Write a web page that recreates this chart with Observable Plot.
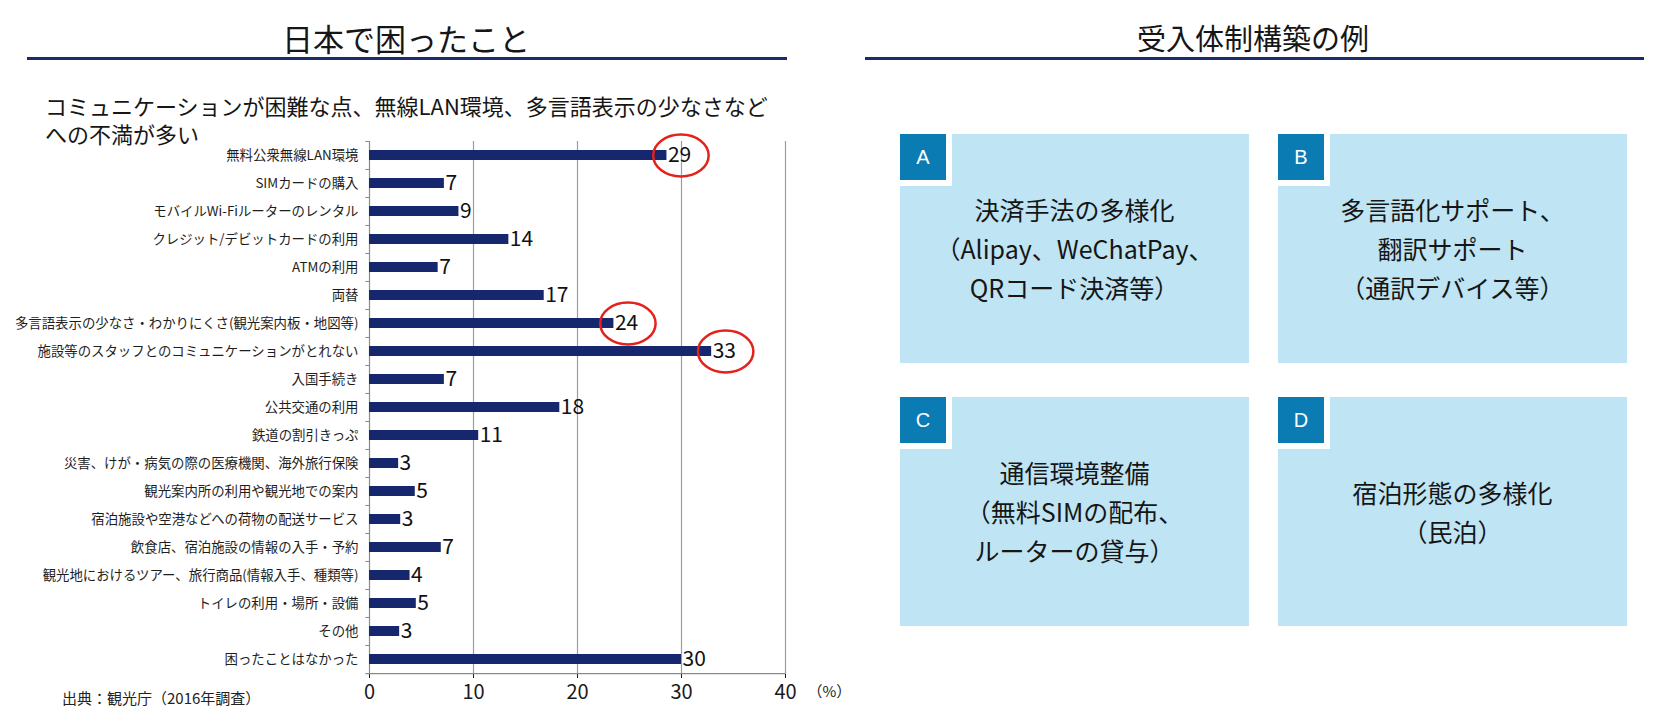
<!DOCTYPE html>
<html><head><meta charset="utf-8">
<script src="https://cdn.jsdelivr.net/npm/d3@7"></script>
<script src="https://cdn.jsdelivr.net/npm/@observablehq/plot@0.6"></script>
<style>
body{margin:0;background:#fff;font-family:"Noto Sans CJK JP","Noto Sans",sans-serif;color:#1a1a1a}
#root{position:relative;width:1664px;height:720px;overflow:hidden;background:#fff}
.abs{position:absolute;white-space:nowrap;line-height:1}
.title{font-size:30px;transform:translate(-50%,-50%);color:#161616}
.rule{position:absolute;height:3px;background:#1c2b6b}
.box{position:absolute;background:#bfe4f3;display:flex;flex-direction:column;align-items:center;justify-content:center;font-size:25px;line-height:39px;color:#161616;text-align:center}
.tag{position:absolute;left:0;top:0;width:46px;height:46px;background:#0b7bb4;border-right:6px solid #fff;border-bottom:6px solid #fff;color:#fff;font-family:"Liberation Sans","DejaVu Sans",sans-serif;font-size:20px;line-height:1;display:flex;align-items:center;justify-content:center}
#chart{position:absolute;left:0;top:0}
</style>
</head><body>
<div id="root">
  <div id="chart"></div>
</div>
<script>
// ---- data ----
const categories = [
  "無料公衆無線LAN環境",
  "SIMカードの購入",
  "モバイルWi-Fiルーターのレンタル",
  "クレジット/デビットカードの利用",
  "ATMの利用",
  "両替",
  "多言語表示の少なさ・わかりにくさ(観光案内板・地図等)",
  "施設等のスタッフとのコミュニケーションがとれない",
  "入国手続き",
  "公共交通の利用",
  "鉄道の割引きっぷ",
  "災害、けが・病気の際の医療機関、海外旅行保険",
  "観光案内所の利用や観光地での案内",
  "宿泊施設や空港などへの荷物の配送サービス",
  "飲食店、宿泊施設の情報の入手・予約",
  "観光地におけるツアー、旅行商品(情報入手、種類等)",
  "トイレの利用・場所・設備",
  "その他",
  "困ったことはなかった"
];
const barValues = [28.6, 7.2, 8.6, 13.4, 6.6, 16.8, 23.5, 32.9, 7.2, 18.3, 10.5, 2.8, 4.4, 3.0, 6.9, 3.9, 4.5, 2.9, 30.0];
const valueLabels = ["29", "7", "9", "14", "7", "17", "24", "33", "7", "18", "11", "3", "5", "3", "7", "4", "5", "3", "30"];
const highlighted = [
  "無料公衆無線LAN環境",
  "多言語表示の少なさ・わかりにくさ(観光案内板・地図等)",
  "施設等のスタッフとのコミュニケーションがとれない"
];
const xTicks = [0, 10, 20, 30, 40];
const leftTitle = "日本で困ったこと";
const rightTitle = "受入体制構築の例";
const subtitleLines = ["コミュニケーションが困難な点、無線LAN環境、多言語表示の少なさなど", "への不満が多い"];
const sourceText = "出典：観光庁（2016年調査）";
const unitLabel = "（%）";
const boxTags = ["A", "B", "C", "D"];
const boxTexts = [
  ["決済手法の多様化", "（Alipay、WeChatPay、", "QRコード決済等）"],
  ["多言語化サポート、", "翻訳サポート", "（通訳デバイス等）"],
  ["通信環境整備", "（無料SIMの配布、", "ルーターの貸与）"],
  ["宿泊形態の多様化", "（民泊）"]
];

// ---- chart ----
const rows = categories.map((c, i) => ({category: c, value: barValues[i], label: valueLabels[i]}));
const H = 720, mTop = 141, mBottom = 46;
const step = (H - mTop - mBottom) / categories.length;

const ellipse = {
  draw(ctx, size) {
    const ry = Math.sqrt(size / Math.PI), rx = ry * 1.32, k = 0.5523;
    ctx.moveTo(rx, 0);
    ctx.bezierCurveTo(rx, ry * k, rx * k, ry, 0, ry);
    ctx.bezierCurveTo(-rx * k, ry, -rx, ry * k, -rx, 0);
    ctx.bezierCurveTo(-rx, -ry * k, -rx * k, -ry, 0, -ry);
    ctx.bezierCurveTo(rx * k, -ry, rx, -ry * k, rx, 0);
    ctx.closePath();
  }
};

const chart = Plot.plot({
  width: 850,
  height: H,
  marginLeft: 369,
  marginRight: 65,
  marginTop: mTop,
  marginBottom: mBottom,
  style: {background: "transparent", fontFamily: "'Noto Sans CJK JP', sans-serif", fontSize: "20px", color: "#1a1a1a"},
  x: {domain: [0, 40], ticks: xTicks, tickSize: 4, tickPadding: 6, label: null, tickFormat: d => String(d)},
  y: {domain: categories, paddingInner: 0.64, paddingOuter: 0.32, axis: null},
  marks: [
    Plot.ruleX(xTicks.slice(1), {stroke: "#9d9d9d", strokeWidth: 1.2}),
    Plot.ruleX([0], {stroke: "#8a8a8a", strokeWidth: 1.2}),
    Plot.ruleY(categories, {y: d => d, x1: -0.35, x2: 0, dy: -step / 2, stroke: "#8a8a8a"}),
    Plot.ruleY([categories[categories.length - 1]], {y: d => d, x1: -0.35, x2: 40, dy: step / 2, stroke: "#8a8a8a", strokeWidth: 1.2}),
    Plot.barX(rows, {x: "value", y: "category", fill: "#16276d"}),
    Plot.text(rows, {frameAnchor: "left", y: "category", text: "category", textAnchor: "end", dx: -11, fontSize: 13.4, fill: "#1e1e1e"}),
    Plot.text(rows, {x: "value", y: "category", text: "label", textAnchor: "start", dx: 1, fontSize: 21, fill: "#111"}),
    Plot.dot(rows.filter(d => highlighted.includes(d.category)), {x: "value", y: "category", dx: 14, r: 21, symbol: ellipse, fill: "none", stroke: "#e3221b", strokeWidth: 2.5}),
    Plot.text([unitLabel], {frameAnchor: "bottom-right", text: d => d, textAnchor: "start", dx: 22, dy: 22, fontSize: 15, fill: "#222"})
  ]
});
chart.querySelectorAll('g[aria-label^="x-axis"]').forEach(g => {
  g.setAttribute("font-size", 20);
  g.querySelectorAll("text").forEach(t => { t.setAttribute("font-size", 20); t.style.fontSize = "20px"; });
});
document.getElementById("chart").append(chart);

// ---- html parts ----
const root = document.getElementById("root");
function add(html) { root.insertAdjacentHTML("beforeend", html); }
add(`<div class="abs title" style="left:406px;top:37px;font-size:31px">${leftTitle}</div>`);
add(`<div class="abs title" style="left:1253px;top:37px;font-size:29px">${rightTitle}</div>`);
add(`<div class="rule" style="left:27px;top:57px;width:760px"></div>`);
add(`<div class="rule" style="left:865px;top:57px;width:779px"></div>`);
subtitleLines.forEach((l, i) => add(`<div class="abs" style="left:45px;top:${94 + i * 28}px;font-size:22px;color:#161616">${l}</div>`));
add(`<div class="abs" style="left:62px;top:690px;font-size:15px;color:#222">${sourceText}</div>`);
const boxX = [900, 1278], boxY = [134, 397], boxW = 349, boxH = 229;
boxTags.forEach((t, i) => {
  const x = boxX[i % 2], y = boxY[Math.floor(i / 2)];
  add(`<div class="box" style="left:${x}px;top:${y}px;width:${boxW}px;height:${boxH}px"><div class="tag">${t}</div>${boxTexts[i].map(l => `<div>${l}</div>`).join("")}</div>`);
});
</script>
</body></html>
